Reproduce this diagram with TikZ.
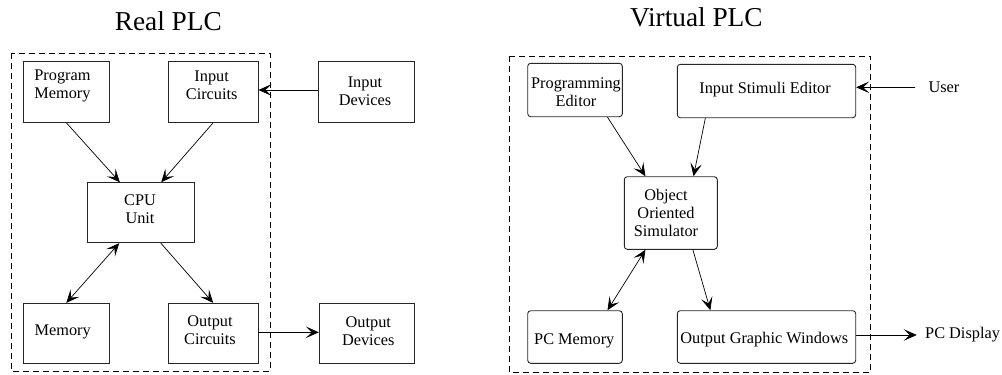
\documentclass[tikz,border=0pt]{standalone}
\usepackage{fontspec}
\setmainfont{Liberation Serif}
\usetikzlibrary{arrows.meta,calc}

\tikzset{
  unit/.style={draw=black!85, line width=0.9pt, inner sep=0pt},
  runit/.style={unit, rounded corners=3pt},
  txt/.style={inner sep=0pt, align=center, font=\fontsize{16.3}{18}\selectfont},
  heading/.style={inner sep=0pt, anchor=base, font=\fontsize{27.3}{32}\selectfont},
  frame/.style={draw=black, line width=0.9pt, dash pattern=on 6pt off 4pt},
  tip/.tip={Stealth[length=13pt, width=11.5pt, inset=6pt]},
  flow/.style={draw=black, line width=0.7pt, -tip},
  bothflow/.style={flow, tip-tip}
}

% box given by its corners in pixel units (y grows downwards)
\newcommand{\blockat}[6][unit]{%
  \node[#1, minimum width={(#5)-(#3)}, minimum height={(#6)-(#4)}]
    (#2) at ({((#3)+(#5))/2}, {((#4)+(#6))/2}) {};}

\begin{document}
\begin{tikzpicture}[x=1pt, y=-1pt]
\useasboundingbox (0,0) rectangle (1002,375);

% ---------------- Real PLC ----------------
\node[heading] (realtitle) at (168.3,30) {Real PLC};
\draw[frame] (11,53) rectangle (270,371);

\blockat{pm}{23.3}{61.7}{109.3}{122.3}
\blockat{ic}{168.3}{61.7}{258}{122.3}
\blockat{idev}{318.7}{61.7}{414.7}{122.3}
\blockat{cpu}{87.3}{182.7}{194.3}{242.7}
\blockat{mem}{23.3}{303.3}{109.3}{363.3}
\blockat{oc}{168.3}{303.3}{258}{363.3}
\blockat{odev}{319.3}{303.3}{414.7}{363.3}

\node[txt] (pmt) at (62.5,85.5) {Program\\Memory};
\node[txt] (ict) at (211.7,85.5) {Input\\Circuits};
\node[txt] (idevt) at (365,91.5) {Input\\Devices};
\node[txt] (cput) at (140,209.5) {CPU\\Unit};
\node[txt, anchor=base] (memt) at (62.7,335) {Memory};
\node[txt] (oct) at (210,330) {Output\\Circuits};
\node[txt] (odevt) at (368.3,331) {Output\\Devices};

\draw[flow] (pm.south) -- ($(cpu.north west)!0.306!(cpu.north east)$);
\draw[flow] (ic.south) -- ($(cpu.north west)!0.689!(cpu.north east)$);
\draw[bothflow] ($(cpu.south west)!0.3!(cpu.south east)$) -- (mem.south |- mem.north);
\draw[flow] ($(cpu.south west)!0.686!(cpu.south east)$) -- (oc.north);
\draw[flow] ([yshift=2pt]idev.west) -- ([yshift=2pt]ic.east);
\draw[flow] ([yshift=1pt]oc.east) -- ([yshift=1pt]odev.west);

% ---------------- Virtual PLC ----------------
\node[heading] (virttitle) at (696.3,26) {Virtual PLC};
\draw[frame] (509.3,56) rectangle (870.7,372.3);

\blockat[runit]{pe}{527.7}{63.3}{622.3}{116.7}
\blockat[runit]{ise}{677.3}{64.3}{855.7}{117.7}
\blockat[runit]{oos}{624.3}{176.7}{717.3}{249.3}
\blockat[runit]{pcm}{527.7}{310.7}{622.3}{363.3}
\blockat[runit]{ogw}{677.3}{310.7}{855.7}{363.3}

\node[txt] (pet) at (576,92.5) {Programming\\Editor};
\node[txt, anchor=base] (iset) at (765,93.3) {Input Stimuli Editor};
\node[txt] (oost) at (666,212.5) {Object\\Oriented\\Simulator};
\node[txt, anchor=base] (pcmt) at (574.3,344.5) {PC Memory};
\node[txt, anchor=base] (ogwt) at (764.3,343.3) {Output Graphic Windows};
\node[txt, anchor=base west] (user) at (928.3,92.7) {User};
\node[txt, anchor=base west] (pcd) at (925,338.3) {PC Display};

\coordinate (userend) at (915,87.3);
\coordinate (pcdend) at (916.7,335);

\draw[flow] ($(pe.south west)!0.84!(pe.south east)$) -- ($(oos.north west)!0.23!(oos.north east)$);
\draw[flow] ($(ise.south west)!0.159!(ise.south east)$) -- ($(oos.north west)!0.742!(oos.north east)$);
\draw[bothflow] ($(oos.south west)!0.23!(oos.south east)$) -- ($(pcm.north west)!0.84!(pcm.north east)$);
\draw[flow] ($(oos.south west)!0.735!(oos.south east)$) -- ($(ogw.north west)!0.187!(ogw.north east)$);
\draw[flow] (userend) -- (ise.east |- userend);
\draw[flow] (ogw.east |- pcdend) -- (pcdend);
\end{tikzpicture}
\end{document}
